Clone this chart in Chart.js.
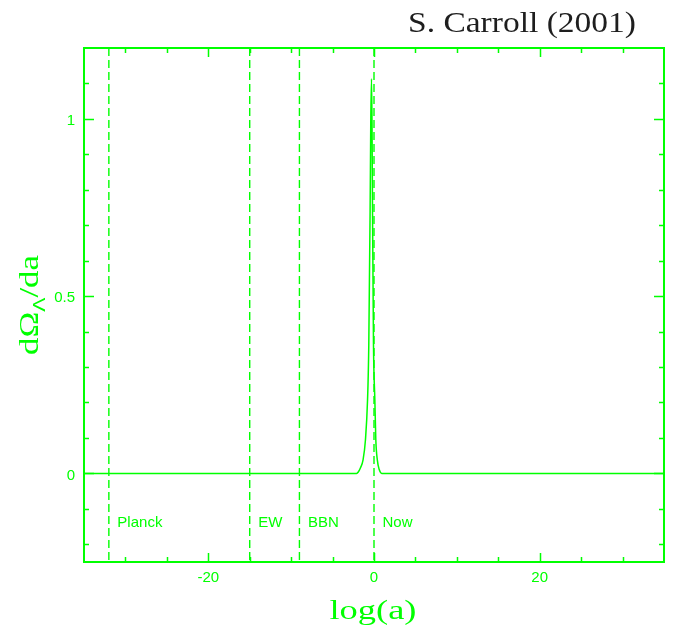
<!DOCTYPE html>
<html>
<head>
<meta charset="utf-8">
<script src="https://cdn.jsdelivr.net/npm/chart.js@4/dist/chart.umd.min.js"></script>
<style>
  html, body { margin: 0; padding: 0; background: #ffffff; }
  canvas { display: block; }
</style>
</head>
<body>
<canvas id="chart" width="673" height="630"></canvas>
<script>
// Rate of change of the vacuum-energy fraction against log of the scale factor
const logA = [-35, -2.1, -1.92, -1.63, -1.32, -1.03, -0.78, -0.63, -0.47, -0.39, -0.30,
              -0.24, -0.18, -0.06, 0.10, 0.22, 0.40, 0.64, 0.94, 35];
const dOmegaLambda = [0, 0, 0.003, 0.016, 0.038, 0.095, 0.207, 0.36, 0.74, 0.99, 1.113,
                      0.99, 0.74, 0.36, 0.21, 0.095, 0.038, 0.01, 0, 0];

// Cosmic epochs marked with dashed verticals
const epochNames = ['Planck', 'EW', 'BBN', 'Now'];
const epochLogA = [-32, -15, -9, 0];

// Axis ticks
const xTickValues = [-20, 0, 20];
const yTickValues = [0, 0.5, 1];
const xLimits = [-35, 35];
const yLimits = [-0.25, 1.2];
const xMinorStep = 5;
const yMinorStep = 0.1;

const GREEN = '#00ff00';
const SANS = '"Liberation Sans", Arial, sans-serif';
const SERIF = '"Liberation Serif", "Times New Roman", serif';

const curvePoints = logA.map((v, i) => ({ x: v, y: dOmegaLambda[i] }));

const epochDatasets = epochLogA.map(v => ({
  data: [{ x: v, y: yLimits[1] }, { x: v, y: yLimits[0] }],
  borderColor: GREEN,
  borderWidth: 1.4,
  borderDash: [8, 4],
  pointRadius: 0,
  tension: 0
}));

// Draw a run of text pieces stretched to a given overall width
function drawFitted(ctx, parts, cx, baseY, targetW) {
  let natural = 0;
  parts.forEach(p => { ctx.font = p.font; natural += ctx.measureText(p.text).width; });
  const s = targetW / natural;
  ctx.save();
  ctx.translate(cx - targetW / 2, baseY);
  ctx.scale(s, 1);
  let x = 0;
  ctx.textAlign = 'left';
  ctx.textBaseline = 'alphabetic';
  parts.forEach(p => {
    ctx.font = p.font;
    ctx.fillText(p.text, x, p.dy || 0);
    x += ctx.measureText(p.text).width;
  });
  ctx.restore();
}

const framePlugin = {
  id: 'frameAndLabels',
  afterDraw(chart) {
    const ctx = chart.ctx;
    const xs = chart.scales.x, ys = chart.scales.y;
    const a = chart.chartArea;
    ctx.save();
    ctx.strokeStyle = GREEN;
    ctx.lineWidth = 2;
    ctx.strokeRect(a.left, a.top, a.right - a.left, a.bottom - a.top);

    // inward ticks on all four sides
    ctx.lineWidth = 1.5;
    ctx.beginPath();
    for (let v = xLimits[0] + xMinorStep; v < xLimits[1] - 1e-9; v += xMinorStep) {
      const major = xTickValues.some(t => Math.abs(t - v) < 1e-9);
      const len = major ? 9 : 5;
      const px = Math.round(xs.getPixelForValue(v)) + 0.5;
      ctx.moveTo(px, a.bottom); ctx.lineTo(px, a.bottom - len);
      ctx.moveTo(px, a.top); ctx.lineTo(px, a.top + len);
    }
    for (let k = Math.ceil(yLimits[0] / yMinorStep); k * yMinorStep < yLimits[1] - 1e-9; k++) {
      const v = k * yMinorStep;
      const major = yTickValues.some(t => Math.abs(t - v) < 1e-9);
      const len = major ? 10 : 5;
      const py = Math.round(ys.getPixelForValue(v)) + 0.5;
      ctx.moveTo(a.left, py); ctx.lineTo(a.left + len, py);
      ctx.moveTo(a.right, py); ctx.lineTo(a.right - len, py);
    }
    ctx.stroke();

    // epoch names beside their dashed lines
    ctx.fillStyle = GREEN;
    ctx.font = '15px ' + SANS;
    ctx.textAlign = 'left';
    ctx.textBaseline = 'alphabetic';
    epochNames.forEach((name, i) => {
      ctx.fillText(name, xs.getPixelForValue(epochLogA[i]) + 8.5, ys.getPixelForValue(-0.15));
    });

    // x-axis title
    ctx.fillStyle = GREEN;
    drawFitted(ctx, [{ text: 'log(a)', font: '27px ' + SERIF }], 373, 619, 87);

    // y-axis title, rotated, with subscript Lambda
    ctx.save();
    ctx.translate(38, 305);
    ctx.rotate(-Math.PI / 2);
    drawFitted(ctx, [
      { text: 'dΩ', font: '28px ' + SERIF },
      { text: 'Λ', font: '17px ' + SANS, dy: 7 },
      { text: '/da', font: '28px ' + SERIF }
    ], 0, 0, 100);
    ctx.restore();

    // author credit
    ctx.fillStyle = '#1e1e1e';
    drawFitted(ctx, [{ text: 'S. Carroll (2001)', font: '29px ' + SERIF }], 522, 32, 228);
    ctx.restore();
  }
};

new Chart(document.getElementById('chart'), {
  type: 'line',
  data: {
    datasets: [{
      data: curvePoints,
      borderColor: GREEN,
      borderWidth: 1.5,
      pointRadius: 0,
      cubicInterpolationMode: 'monotone'
    }].concat(epochDatasets)
  },
  options: {
    responsive: false,
    animation: false,
    layout: { padding: { top: 48, right: 9, left: 0, bottom: 0 } },
    plugins: { legend: { display: false }, tooltip: { enabled: false }, title: { display: false } },
    scales: {
      x: {
        type: 'linear',
        min: xLimits[0],
        max: xLimits[1],
        grid: { display: false, drawTicks: false },
        border: { display: false },
        afterBuildTicks: s => { s.ticks = xTickValues.map(v => ({ value: v })); },
        afterFit: s => { s.height = 68; },
        ticks: {
          color: GREEN,
          font: { family: SANS, size: 15 },
          padding: 7,
          maxRotation: 0,
          callback: v => String(v)
        }
      },
      y: {
        type: 'linear',
        min: yLimits[0],
        max: yLimits[1],
        grid: { display: false, drawTicks: false },
        border: { display: false },
        afterBuildTicks: s => { s.ticks = yTickValues.map(v => ({ value: v })); },
        afterFit: s => { s.width = 84; },
        ticks: {
          color: GREEN,
          font: { family: SANS, size: 15 },
          padding: 9,
          labelOffset: 2,
          callback: v => String(v)
        }
      }
    }
  },
  plugins: [framePlugin]
});
</script>
</body>
</html>
